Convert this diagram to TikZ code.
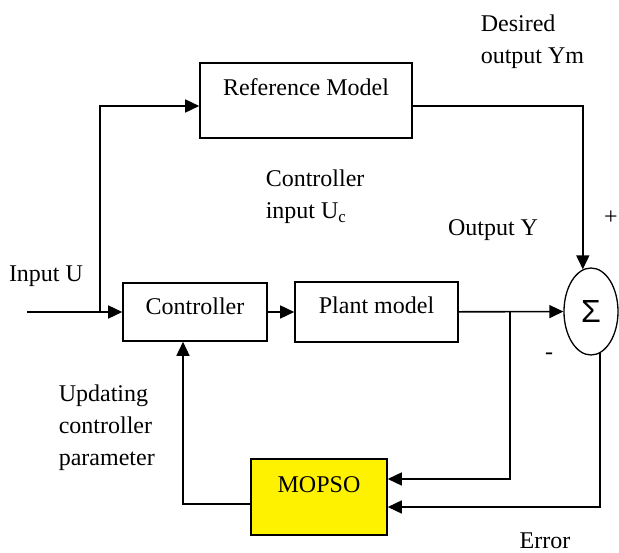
\documentclass[tikz,border=0pt]{standalone}
\usepackage{fontspec}
\setmainfont{Liberation Serif}
\newfontfamily\sigmafont{Liberation Sans}
\usetikzlibrary{arrows.meta,shapes.geometric}
\begin{document}
\begin{tikzpicture}[x=1pt,y=-1pt,line width=1.6pt,inner sep=0pt,
  >={Triangle[length=14pt,width=13pt]},
  font=\fontsize{24}{32}\selectfont,
  blk/.style={draw,text height=17pt}]
\useasboundingbox (0,0) rectangle (619,553);
\node[blk,minimum width=212pt,minimum height=75pt,text depth=26pt] (R) at (306,100.5) {Reference Model};
\node[blk,minimum width=144pt,minimum height=58pt,text depth=12pt] (C) at (195,312) {Controller};
\node[blk,minimum width=163pt,minimum height=60pt,text depth=13pt] (P) at (376.5,312) {Plant model};
\node[blk,fill=yellow,minimum width=136pt,minimum height=76pt,text depth=25pt] (M) at (319,497) {MOPSO};
\node[draw,ellipse,line width=1.3pt,minimum width=54pt,minimum height=87pt,font=\sigmafont\fontsize{32}{32}\selectfont] (S) at (591,311.5) {Σ};
% labels
\node[align=left,anchor=west] (Ym) at (480,42) {Desired\\output Ym};
\node[align=left,anchor=west] (Uc) at (265,197) {Controller\\input U\textsubscript{c}};
\node (Y) at (493,230) {Output Y};
\node (U) at (46,276) {Input U};
\node[align=left,anchor=west] (upd) at (58,428) {Updating\\controller\\parameter};
\node (err) at (545,541) {Error};
\node (plus) at (611,218) {+};
\node (minus) at (549,356) {-};
% signal lines
\coordinate (in) at (27,312);
\coordinate (j1) at (100,312);
\coordinate (j2) at (510,312);
\draw[->] (in) -- (C.west);
\draw[->] (j1) |- ([yshift=-5.5pt]R.west);
\draw[->] ([yshift=-5.5pt]R.east) -| (S.101);
\draw[->] (C) -- (P);
\draw[->] (P) -- (S);
\draw[->] (j2) |- ([yshift=18pt]M.east);
\draw[->] (S.-78) |- ([yshift=-10pt]M.east);
\draw[->] ([yshift=-7pt]M.west) -| ([xshift=-12pt]C.south);
\end{tikzpicture}
\end{document}
